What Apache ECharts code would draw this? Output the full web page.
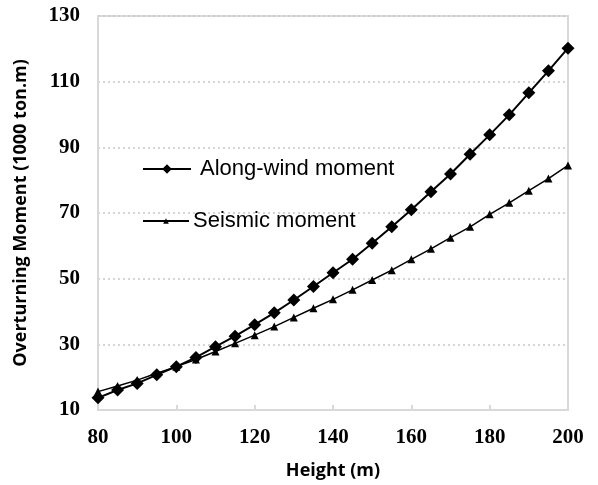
<!DOCTYPE html>
<html><head><meta charset="utf-8">
<script src="https://cdn.jsdelivr.net/npm/echarts@6/dist/echarts.min.js"></script>
<style>html,body{margin:0;padding:0;background:#fff}#c{width:598px;height:485px}</style>
</head><body><div id="c"></div>
<script>
const heights = [80,85,90,95,100,105,110,115,120,125,130,135,140,145,150,155,160,165,170,175,180,185,190,195,200];
const alongWind = [13.7,16.1,18.1,20.7,23.2,26.0,29.3,32.5,36.0,39.6,43.5,47.6,51.8,55.9,60.8,65.8,71.0,76.5,81.9,87.9,93.8,99.9,106.6,113.3,120.2];
const seismic = [15.6,17.3,19.1,21.2,23.2,25.4,27.8,30.3,32.8,35.4,38.2,41.0,43.7,46.6,49.6,52.6,55.9,59.1,62.5,65.8,69.6,73.1,76.8,80.5,84.5];
const seriesNames = ['Along-wind moment','Seismic moment'];
const xTitle = 'Height (m)';
const yTitle = 'Overturning Moment (1000 ton.m)';

const chart = echarts.init(document.getElementById('c'), null, {renderer:'canvas'});
const tickFont = {fontFamily:'Liberation Serif', fontWeight:'bold', fontSize:21, color:'#000'};
const legendText = {fontFamily:'Liberation Sans',fontSize:22,color:'#000'};
chart.setOption({
  animation:false,
  backgroundColor:'#fff',
  grid:{left:98,right:30,top:16,bottom:75,show:true,borderColor:'#d9d9d9',borderWidth:2},
  legend:[
    {data:[seriesNames[0]],left:137,top:153,itemWidth:48,itemHeight:12,itemGap:0,
     textStyle:Object.assign({padding:[0,0,0,4]},legendText)},
    {data:[seriesNames[1]],left:137,top:205,itemWidth:46,itemHeight:7,itemGap:0,
     textStyle:Object.assign({padding:[0,0,0,-1]},legendText)}
  ],
  xAxis:{type:'value',min:80,max:200,interval:20,
    name:xTitle,nameLocation:'middle',nameGap:52,
    nameTextStyle:{fontFamily:'Open Sans',fontWeight:'bold',fontSize:18,color:'#000'},
    axisLine:{show:true,lineStyle:{color:'#d9d9d9',width:2}},
    axisTick:{show:true,inside:true,length:5,lineStyle:{color:'#d9d9d9',width:2}},
    axisLabel:Object.assign({margin:17},tickFont),
    splitLine:{show:false}},
  yAxis:{type:'value',min:10,max:130,interval:20,
    name:yTitle,nameLocation:'middle',nameGap:68,
    nameTextStyle:{fontFamily:'Open Sans',fontWeight:'bold',fontSize:18,color:'#000'},
    axisLine:{show:true,lineStyle:{color:'#d9d9d9',width:2}},
    axisTick:{show:false},
    axisLabel:Object.assign({margin:18},tickFont),
    splitLine:{show:true,lineStyle:{color:'#c8c8c8',type:[2,3],width:1.5}}},
  series:[
    {name:seriesNames[0],type:'line',data:heights.map((h,i)=>[h,alongWind[i]]),
     symbol:'diamond',symbolSize:13,itemStyle:{color:'#000'},lineStyle:{color:'#000',width:2}},
    {name:seriesNames[1],type:'line',data:heights.map((h,i)=>[h,seismic[i]]),
     symbol:'triangle',symbolSize:8,itemStyle:{color:'#000'},lineStyle:{color:'#000',width:1.5}}
  ]
});
</script></body></html>
